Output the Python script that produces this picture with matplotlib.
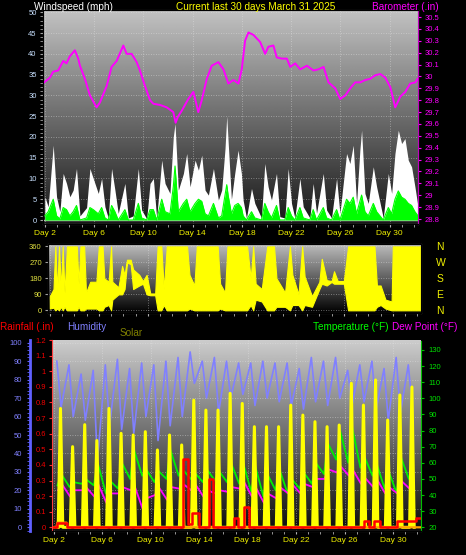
import numpy as np
import matplotlib.pyplot as plt
from matplotlib.ticker import MultipleLocator, FixedLocator, FuncFormatter

plt.rcParams['font.family'] = ['Liberation Sans', 'DejaVu Sans']

# ---------------- data ----------------
day_ticks = [2, 6, 10, 14, 18, 22, 26, 30]
day_labels = ['Day %d' % d for d in day_ticks]

baro_day = [1.95, 2.41, 2.68, 3.08, 3.49, 3.76, 4.03, 4.44, 4.71, 4.85, 5.25, 5.66,
            6.20, 6.47, 7.02, 7.42, 7.83, 8.37, 8.64, 9.05, 9.46, 9.72, 10.13, 10.54,
            10.81, 11.35, 11.89, 12.43, 12.62, 12.80, 13.11, 13.65, 14.06, 14.46, 14.74,
            15.15, 15.55, 16.09, 16.50, 16.90, 17.31, 17.72, 17.99, 18.26, 18.53, 18.93,
            19.48, 19.89, 20.15, 20.56, 20.83, 21.24, 21.65, 21.92, 22.33, 22.73, 23.28,
            23.81, 24.22, 24.63, 25.03, 25.58, 25.98, 26.39, 26.80, 27.20, 27.61, 28.02,
            28.42, 28.83, 29.24, 29.64, 30.05, 30.45, 30.86, 31.27, 31.67, 32.08, 32.27]
baro_in = [29.95, 29.99, 30.04, 30.05, 30.13, 30.11, 30.17, 30.22, 30.15, 30.09, 29.98, 29.84,
           29.74, 29.78, 29.92, 30.08, 30.13, 30.26, 30.19, 30.19, 30.12, 30.05, 29.92, 29.80,
           29.77, 29.76, 29.74, 29.70, 29.61, 29.66, 29.71, 29.81, 29.87, 29.70, 29.80,
           29.98, 30.09, 30.12, 30.06, 29.94, 29.97, 29.94, 30.06, 30.30, 30.37, 30.35,
           30.29, 30.19, 30.25, 30.26, 30.16, 30.15, 30.15, 30.08, 30.11, 30.06, 30.09,
           30.05, 30.06, 30.08, 29.95, 29.90, 29.81, 29.84, 29.90, 29.95, 29.95, 29.97,
           29.98, 30.01, 30.02, 29.99, 29.91, 29.74, 29.83, 29.87, 29.94, 29.95, 29.98]

gust_day = [2.00, 2.27, 2.68, 2.95, 3.22, 3.49, 3.76, 4.03, 4.30, 4.57, 4.85, 5.39, 5.66,
            5.93, 6.34, 6.61, 6.88, 7.15, 7.42, 7.69, 7.96, 8.50, 8.78, 9.18, 9.59, 9.86,
            10.27, 10.54, 10.81, 11.08, 11.49, 11.76, 12.16, 12.43, 12.57, 12.84, 13.25,
            13.52, 13.79, 14.20, 14.47, 14.74, 15.01, 15.28, 15.69, 16.09, 16.36, 16.63,
            16.77, 16.88, 17.15, 17.42, 17.69, 17.96, 18.10, 18.37, 18.78, 19.05, 19.59,
            19.86, 20.13, 20.40, 20.81, 21.08, 21.49, 21.76, 22.03, 22.30, 22.71, 22.98,
            23.52, 23.79, 24.06, 24.61, 24.88, 25.28, 25.69, 25.96, 26.50, 26.77, 27.04,
            27.31, 27.58, 27.72, 27.99, 28.26, 28.67, 28.94, 29.48, 29.89, 30.16, 30.43,
            30.70, 30.97, 31.24, 31.51, 31.78, 32.05, 32.30]
gust_mph = [5.6, 3.2, 18, 5.6, 2.0, 11.2, 8.8, 5.6, 7.2, 12.4, 1.0, 3.0, 12.4,
            10.0, 6.4, 10.0, 3.2, 0.5, 12.4, 7.2, 1.6, 8.8, 0.5, 1.0, 12.4, 2.4,
            0.3, 8.8, 10.0, 0.5, 14.4, 8.8, 6.4, 20.0, 23.2, 7.2, 11.2,
            16.0, 8.0, 14.4, 12.0, 15.6, 7.2, 6.0, 12.4, 4.8, 7.2, 17.2,
            25.0, 19.0, 5.0, 11.2, 16.8, 11.2, 4.8, 0.5, 7.6, 4.0, 0.5,
            13.6, 8.0, 4.8, 11.2, 0.8, 0.5, 12.4, 4.0, 0.5, 10.0, 3.2,
            0.5, 8.8, 1.6, 11.2, 2.4, 0.5, 10.0, 1.6, 16.0, 13.6, 18.0,
            4.0, 16.8, 21.6, 6.4, 4.0, 12.8, 8.0, 0.5, 11.2, 6.4, 16.0,
            21.6, 18.4, 19.6, 14.4, 12.8, 8.0, 3.2]
speed_mph = [1.0, 2.0, 5.0, 1.0, 0.3, 3.0, 2.5, 1.0, 2.0, 3.5, 0.0, 0.5, 3.0,
             2.5, 1.5, 3.0, 0.5, 0.0, 3.5, 2.0, 0.0, 2.5, 0.0, 0.0, 4.0, 0.5,
             0.0, 2.5, 2.5, 0.0, 5.0, 2.0, 1.5, 8.0, 13.0, 2.0, 4.0,
             5.0, 2.0, 4.0, 5.0, 4.5, 1.5, 1.0, 4.0, 0.5, 1.0, 6.0,
             8.5, 6.0, 1.5, 3.5, 4.0, 3.0, 1.0, 0.0, 2.0, 0.5, 0.0,
             4.0, 2.0, 0.5, 3.5, 0.0, 0.0, 3.0, 1.0, 0.0, 3.0, 0.5,
             0.0, 2.5, 0.0, 3.0, 0.5, 0.0, 2.5, 0.0, 5.0, 4.0, 5.5,
             1.5, 4.5, 6.0, 2.0, 1.0, 4.0, 2.0, 0.0, 3.0, 1.5, 5.0,
             7.0, 5.5, 5.0, 4.0, 3.5, 2.0, 1.0]

dir_day = [2.0, 2.3, 2.45, 2.6, 2.75, 2.9, 3.05, 3.2, 3.4, 4.2, 4.35, 4.5, 4.8, 4.95,
           5.3, 5.8, 6.0, 6.3, 6.45, 6.8, 7.0, 7.1, 7.6, 7.9, 8.1, 8.3, 8.6, 8.8, 9.3,
           9.6, 9.9, 10.2, 10.6, 10.8, 11.1, 11.3, 11.55, 13.2, 13.4, 13.8, 14.0, 15.7,
           15.9, 16.3, 16.5, 18.1, 18.4, 18.6, 18.8, 19.3, 19.75, 20.3, 20.5, 21.2, 21.6,
           21.8, 22.3, 22.6, 22.8, 23.4, 24.0, 24.2, 24.6, 25.0, 25.2, 25.5, 26.0, 26.35,
           28.5, 28.7, 29.0, 29.4, 29.9, 30.0, 32.4]
dir_lo = [10, 15, 0, 10, 0, 20, 0, 20, 0, 0, 20, 0, 0, 10,
          10, 10, 0, 0, 20, 30, 0, 60, 90, 90, 120, 270, 260, 120, 140,
          150, 90, 85, 85, 0, 0, 30, 0, 0, 10, 0, 0, 0,
          10, 0, 0, 0, 30, 0, 60, 50, 0, 0, 20, 20, 0,
          30, 30, 0, 30, 20, 120, 150, 140, 160, 150, 150, 150, 0,
          0, 20, 30, 10, 0, 0, 0]
dir_hi = [80, 120, 360, 110, 360, 120, 360, 100, 360, 360, 150, 360, 360, 100,
          161, 161, 360, 360, 180, 161, 360, 161, 130, 250, 200, 285, 285, 230, 200,
          165, 200, 95, 95, 360, 360, 120, 360, 360, 200, 140, 360, 360,
          150, 100, 360, 360, 180, 360, 150, 120, 360, 360, 180, 100, 360,
          200, 90, 360, 190, 80, 160, 290, 170, 165, 220, 165, 165, 360,
          360, 140, 140, 60, 50, 360, 360]

days = list(range(2, 32))
hum_high = [90, 88, 83, 85, 88, 91, 86, 89, 88, 90, 92, 95, 90, 92, 90,
            89, 89, 90, 89, 89, 86, 92, 90, 92, 85, 88, 90, 86, 92, 88]
hum_low = [65, 60, 58, 36, 55, 53, 51, 60, 47, 55, 60, 78, 70, 62, 70,
           72, 66, 70, 68, 66, 64, 68, 66, 70, 66, 68, 64, 58, 62, 64]
temp_low = [46, 45, 47, 46, 41, 44, 50, 52, 48, 50, 52, 50, 48, 49, 48,
            47, 42, 39, 43, 41, 44, 47, 53, 62, 60, 57, 52, 44, 41, 50]
temp_high = [53, 48, 50, 60, 49, 60, 68, 56, 55, 68, 56, 54, 56, 55, 60,
             60, 58, 53, 56, 50, 54, 60, 72, 80, 82, 64, 60, 55, 64, 58]
dew_low = [43, 39, 43, 39, 35, 41, 43, 31, 40, 37, 44, 43, 39, 41, 42,
           44, 39, 35, 38, 41, 41, 45, 50, 54, 52, 47, 45, 41, 41, 44]
dew_high = [47, 43, 45, 47, 41, 45, 46, 38, 45, 45, 47, 47, 43, 43, 45,
            49, 45, 41, 45, 47, 47, 50, 56, 58, 56, 51, 50, 45, 49, 51]
solar_peak = [644, 437, 556, 470, 644, 509, 500, 518, 419, 500, 446, 689, 635, 635, 726,
              671, 545, 545, 545, 662, 608, 572, 545, 554, 780, 662, 798, 581, 717, 760]

rain_day = [1.85, 2.3, 3.1, 12.7, 13.05, 13.4, 13.95, 14.8, 15.1, 16.85, 17.2, 17.7,
            18.1, 27.6, 28.0, 28.4, 28.9, 30.35, 31.9, 32.3]
rain_in = [0, 0.03, 0, 0.44, 0.02, 0.09, 0, 0.31, 0, 0.06, 0, 0.13,
           0, 0.04, 0, 0.04, 0, 0.04, 0.06, 0.06]
rate_day = [1.85, 2.2, 2.3, 3.05, 3.15, 32.3]
rate_in = [0, 0, 0.03, 0.03, 0, 0]

# build the daily cycles from the daily readings
hum_t, hum_v = [], []
temp_t, temp_v = [], []
dew_t, dew_v = [], []
sol_t, sol_v = [], []
for i, d in enumerate(days):
    hum_t += [d + 0.25, d + 0.6]
    hum_v += [hum_high[i], hum_low[i]]
    temp_t += [d + 0.3, d + 0.62]
    temp_v += [temp_low[i], temp_high[i]]
    dew_t += [d + 0.35, d + 0.65]
    dew_v += [dew_low[i], dew_high[i]]
    sol_t += [d + 0.36, d + 0.55, d + 0.74]
    sol_v += [0, solar_peak[i], 0]

# ---------------- figure ----------------
W, H = 466, 555
fig = plt.figure(figsize=(W / 100, H / 100), dpi=100, facecolor='black')
XLIM = (1.85, 32.3)
YELLOW = '#f0f000'


def place(x0, y0, x1, y1):
    return fig.add_axes([x0 / W, 1 - y1 / H, (x1 - x0) / W, (y1 - y0) / H])


def backdrop(ax, top, bottom):
    grad = np.linspace(top, bottom, 256)[:, None]
    ax.imshow(grad, cmap='gray', vmin=0, vmax=1, aspect='auto',
              extent=(0, 1, 0, 1), transform=ax.transAxes, zorder=0)
    ax.set_facecolor('black')


def days_axis(ax, labels=True):
    ax.set_xlim(*XLIM)
    ax.xaxis.set_major_locator(FixedLocator(day_ticks))
    ax.xaxis.set_minor_locator(MultipleLocator(1))
    if labels:
        ax.set_xticklabels(day_labels)
    else:
        ax.set_xticklabels([])
    ax.tick_params(axis='x', which='both', colors='#b0b0b0', labelcolor=YELLOW,
                   labelsize=6, length=2, pad=2)
    ax.grid(True, which='major', color='#e8e8e8', ls=(0, (1, 2)), lw=0.6, alpha=0.55)


# ---- top panel: wind + barometer ----
ax1 = place(43, 10, 418, 224)
backdrop(ax1, 0.76, 0.09)
ax1.fill_between(gust_day, gust_mph, color='white', lw=0, zorder=2)
ax1.fill_between(gust_day, speed_mph, color='#00ff00', lw=0, zorder=3)
ax1.plot(gust_day, speed_mph, color='#00ff00', lw=0.8, zorder=3)
ax1.axhline(0, color='#c8c8c8', lw=1, zorder=2)
ax1.set_ylim(-0.96, 50.55)
ax1.yaxis.set_major_locator(MultipleLocator(5))
ax1.yaxis.set_minor_locator(MultipleLocator(1))
ax1.tick_params(axis='y', which='both', colors='#a0a0a0', labelcolor='#c8e0ff',
                labelsize=5.5, length=2.5, pad=2)
days_axis(ax1)
for s in ax1.spines.values():
    s.set_color('#909090')

ax1b = ax1.twinx()
ax1b.plot(baro_day, baro_in, color='#ff00ff', lw=1.4)
ax1b.set_ylim(28.758, 30.559)
ax1b.yaxis.set_major_locator(MultipleLocator(0.1))
ax1b.yaxis.set_major_formatter(FuncFormatter(lambda v, p: ('%.1f' % v).rstrip('0').rstrip('.')))
ax1b.tick_params(axis='y', colors='#ff00ff', labelsize=5.5, length=2.5, pad=2)
ax1b.spines['right'].set_color('#c000c0')

# ---- middle panel: wind direction ----
ax2 = place(48, 244, 421, 313)
backdrop(ax2, 0.74, 0.0)
ax2.fill_between(dir_day, dir_lo, dir_hi, color='#ffff00', edgecolor='#ffff00', lw=0.8, zorder=2)
ax2.set_ylim(-15, 373.6)
ax2.yaxis.set_major_locator(FixedLocator([0, 90, 180, 270, 360]))
ax2.tick_params(axis='y', colors='#a0a0a0', labelcolor='#e0e040', labelsize=5.5, length=2.5, pad=2)
days_axis(ax2, labels=False)
for s in ax2.spines.values():
    s.set_color('#909090')
ax2r = ax2.twinx()
ax2r.set_ylim(-15, 373.6)
ax2r.set_yticks([0, 90, 180, 270, 360])
ax2r.set_yticklabels(['N', 'E', 'S', 'W', 'N'])
ax2r.tick_params(axis='y', colors=YELLOW, labelsize=7.5, length=0, pad=11)

# ---- bottom panel: humidity, temperature, solar, rain ----
axh = place(52, 340, 421, 531)
backdrop(axh, 0.80, 0.05)
axh.plot(hum_t, hum_v, color='#8080ff', lw=1.2)
axh.set_ylim(-2.0, 101.46)
axh.yaxis.set_major_locator(MultipleLocator(10))
axh.yaxis.set_minor_locator(MultipleLocator(2))
axh.spines['left'].set_position(('axes', -(52 - 29.5) / 369))
axh.spines['left'].set_color('#6060ff')
axh.spines['left'].set_linewidth(2)
axh.tick_params(axis='y', which='both', colors='#6060ff', labelcolor='#8080ff',
                labelsize=5.5, length=2.5, pad=3)
days_axis(axh)
axh.spines['bottom'].set_color('#a0a0a0')
axh.spines['top'].set_visible(False)
axh.spines['right'].set_visible(False)

axt = axh.twinx()
axt.plot(temp_t, temp_v, color='#00ee00', lw=1.3)
axt.plot(dew_t, dew_v, color='#ff00ff', lw=1.3)
axt.set_ylim(17.7, 136.2)
axt.yaxis.set_major_locator(MultipleLocator(10))
axt.tick_params(axis='y', colors='#00c000', labelcolor='#00e000', labelsize=5.5, length=2.5, pad=3)
axt.spines['right'].set_color('#00c000')
axt.spines['right'].set_linestyle((0, (1, 1)))
axt.spines['left'].set_visible(False)
axt.spines['top'].set_visible(False)

axs = axh.twinx()
axs.fill_between(sol_t, sol_v, color='#ffff00', lw=0)
axs.plot(sol_t, sol_v, color='#ffff00', lw=2.2)
axs.set_ylim(-20, 1014.6)
axs.axis('off')

axr = axh.twinx()
axr.yaxis.tick_left()
axr.plot(rate_day, rate_in, color='#ffa000', lw=1.6)
axr.step(rain_day, rain_in, where='post', color='#ff0000', lw=1.8)
axr.set_ylim(-0.0237, 1.2006)
axr.yaxis.set_major_locator(MultipleLocator(0.1))
axr.yaxis.set_major_formatter(FuncFormatter(lambda v, p: ('%.1f' % v).rstrip('0').rstrip('.')))
axr.tick_params(axis='y', colors='#ff3030', labelcolor='#ee0000', labelsize=5.5, length=2.5, pad=2)
axr.spines['left'].set_color('#ff4040')
axr.spines['left'].set_linestyle((0, (2, 1)))
axr.spines['right'].set_visible(False)
axr.spines['top'].set_visible(False)

# ---- header texts ----
def label(x, y, s, color, ha='left'):
    fig.text(x / W, 1 - y / H, s, color=color, fontsize=7.2, ha=ha, va='baseline')


label(34, 9.5, 'Windspeed (mph)', 'white')
label(256, 9.5, 'Current last 30 days March 31 2025', '#ffff00', ha='center')
label(372, 9.5, 'Barometer (.in)', '#ff00ff')
label(0.5, 330, 'Rainfall (.in)', '#ff0000')
label(67, 330, 'Humidity', '#8080ff')
label(120, 335.5, 'Solar', '#808000')
label(313, 330, 'Temperature (°F)', '#00ff00')
label(392, 330, 'Dew Point (°F)', '#ff00ff')

fig.savefig('out.png', dpi=100, facecolor='black')
